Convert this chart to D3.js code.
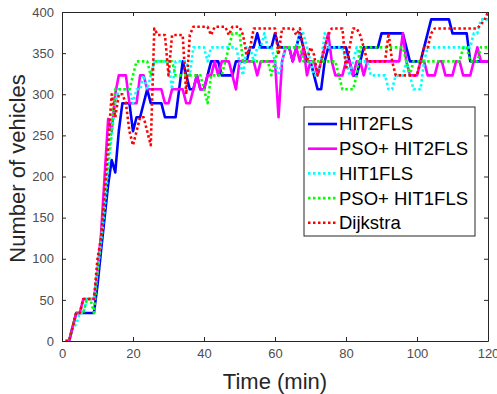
<!DOCTYPE html>
<html>
<head>
<meta charset="utf-8">
<script src="https://cdn.jsdelivr.net/npm/d3@7"></script>
<style>
  body { margin: 0; background: #fff; }
  svg { display: block; font-family: "Liberation Sans", Arial, sans-serif; }
</style>
</head>
<body>
<div id="chart"></div>
<script>
// minutes 1..120
const times = d3.range(1, 121);

const hit2fls = [
  0, 0, 17, 34, 34, 34, 34, 34, 34, 68,
  110, 150, 190, 220, 205, 255, 289, 289, 289, 255,
  272, 272, 289, 306, 289, 289, 289, 289, 272, 272,
  272, 272, 306, 340, 323, 306, 306, 323, 306, 306,
  323, 340, 340, 340, 323, 323, 323, 323, 340, 340,
  340, 340, 357, 357, 374, 357, 357, 357, 357, 374,
  357, 357, 357, 357, 340, 357, 374, 357, 340, 340,
  323, 306, 306, 340, 357, 357, 357, 357, 357, 357,
  340, 323, 323, 340, 357, 357, 357, 357, 357, 374,
  374, 374, 374, 374, 374, 374, 357, 340, 340, 340,
  340, 357, 374, 391, 391, 391, 391, 391, 391, 374,
  374, 374, 374, 374, 340, 340, 340, 340, 340, 340
];

const psoHit2fls = [
  0, 0, 17, 34, 34, 51, 51, 51, 51, 85,
  130, 200, 270, 255, 300, 323, 323, 323, 289, 289,
  289, 323, 323, 306, 306, 306, 306, 306, 289, 289,
  306, 306, 306, 306, 289, 289, 306, 323, 306, 306,
  323, 323, 340, 323, 340, 340, 340, 323, 306, 340,
  340, 340, 340, 340, 323, 340, 340, 340, 340, 340,
  272, 340, 357, 357, 340, 357, 340, 357, 323, 340,
  340, 323, 340, 357, 374, 340, 323, 323, 323, 340,
  340, 323, 340, 340, 323, 340, 340, 340, 340, 340,
  340, 340, 340, 340, 340, 374, 340, 323, 323, 323,
  340, 340, 323, 323, 323, 340, 340, 323, 323, 323,
  340, 340, 323, 323, 323, 340, 357, 340, 340, 340
];

const hit1fls = [
  0, 0, 17, 20, 34, 34, 51, 51, 51, 85,
  120, 160, 210, 250, 289, 306, 306, 306, 306, 289,
  306, 306, 323, 306, 323, 340, 340, 340, 340, 340,
  306, 340, 340, 340, 340, 323, 357, 357, 357, 357,
  340, 357, 357, 357, 357, 357, 357, 357, 357, 340,
  323, 357, 357, 340, 357, 357, 374, 357, 357, 340,
  323, 340, 357, 357, 357, 357, 374, 374, 357, 340,
  323, 323, 340, 374, 357, 357, 357, 357, 357, 340,
  323, 340, 357, 340, 340, 340, 323, 323, 323, 323,
  323, 306, 306, 323, 323, 323, 340, 323, 306, 306,
  306, 340, 357, 357, 357, 357, 357, 357, 357, 357,
  357, 357, 357, 357, 357, 374, 374, 391, 391, 391
];

const psoHit1fls = [
  0, 0, 17, 34, 34, 34, 51, 51, 34, 85,
  125, 170, 220, 260, 306, 306, 306, 306, 306, 323,
  340, 340, 340, 340, 323, 340, 340, 340, 340, 340,
  340, 323, 323, 323, 323, 323, 323, 323, 323, 306,
  289, 323, 323, 323, 323, 340, 357, 374, 374, 374,
  340, 340, 340, 340, 340, 340, 340, 340, 323, 340,
  357, 357, 357, 357, 357, 357, 357, 340, 340, 340,
  340, 340, 340, 340, 340, 340, 340, 323, 306, 306,
  306, 306, 323, 357, 357, 357, 357, 357, 357, 357,
  357, 357, 357, 357, 357, 357, 340, 323, 340, 340,
  340, 340, 340, 340, 340, 340, 340, 340, 340, 340,
  340, 340, 357, 357, 340, 340, 340, 357, 357, 357
];

const dijkstra = [
  0, 0, 17, 34, 34, 51, 51, 51, 51, 100,
  125, 180, 240, 300, 272, 300, 300, 289, 255, 238,
  255, 272, 272, 255, 238, 380, 372, 372, 372, 323,
  372, 372, 372, 372, 300, 372, 382, 382, 382, 382,
  382, 372, 382, 382, 382, 382, 372, 382, 382, 382,
  372, 348, 357, 380, 380, 380, 380, 380, 380, 380,
  348, 380, 380, 380, 380, 372, 380, 357, 340, 357,
  348, 323, 340, 357, 372, 380, 380, 380, 380, 330,
  357, 380, 380, 372, 357, 340, 340, 340, 340, 340,
  340, 374, 340, 323, 323, 323, 323, 323, 323, 323,
  340, 357, 357, 374, 380, 380, 380, 380, 380, 380,
  380, 380, 380, 380, 380, 380, 380, 385, 390, 400
];

const seriesNames = ['HIT2FLS', 'PSO+ HIT2FLS', 'HIT1FLS', 'PSO+ HIT1FLS', 'Dijkstra'];
const seriesValues = [hit2fls, psoHit2fls, hit1fls, psoHit1fls, dijkstra];
const seriesColors = ['#0000ff', '#ff00ff', '#00ffff', '#00ff00', '#ff0000'];
const seriesDash = [null, null, '2.5,2.5', '2.5,2.5', '2.5,2.5'];

const xTicks = [0, 20, 40, 60, 80, 100, 120];
const yTicks = [0, 50, 100, 150, 200, 250, 300, 350, 400];

const width = 497;
const height = 394;
const margin = { top: 12, right: 9, bottom: 53, left: 62 };

const svg = d3.select('#chart').append('svg')
  .attr('width', width)
  .attr('height', height);

const x = d3.scaleLinear().domain([0, 120]).range([margin.left, width - margin.right]);
const y = d3.scaleLinear().domain([0, 400]).range([height - margin.bottom, margin.top]);

const axisColor = '#262626';
const tickColor = '#4d4d4d';

// clip lines to plot box
svg.append('clipPath').attr('id', 'plotclip')
  .append('rect')
  .attr('x', x(0)).attr('y', y(400))
  .attr('width', x(120) - x(0)).attr('height', y(0) - y(400));

const line = d3.line()
  .x((d, i) => x(times[i]))
  .y(d => y(d));

const lines = svg.append('g').attr('clip-path', 'url(#plotclip)');
seriesValues.forEach((vals, k) => {
  lines.append('path')
    .datum(vals)
    .attr('fill', 'none')
    .attr('stroke', seriesColors[k])
    .attr('stroke-width', 2.6)
    .attr('stroke-dasharray', seriesDash[k])
    .attr('stroke-linejoin', 'round')
    .attr('d', line);
});

// axes, MATLAB style box with inward ticks
function styleAxis(g) {
  g.select('.domain').attr('stroke', axisColor).attr('stroke-width', 1);
  g.selectAll('.tick line').attr('stroke', axisColor).attr('stroke-width', 1);
  g.selectAll('.tick text')
    .attr('fill', tickColor)
    .attr('font-size', 13);
}

svg.append('g')
  .attr('transform', `translate(0,${y(0)})`)
  .call(d3.axisBottom(x).tickValues(xTicks).tickSizeInner(-4).tickSizeOuter(0).tickPadding(8))
  .call(styleAxis);

svg.append('g')
  .attr('transform', `translate(0,${y(400)})`)
  .call(d3.axisTop(x).tickValues(xTicks).tickSizeInner(-4).tickSizeOuter(0).tickFormat(''))
  .call(styleAxis);

svg.append('g')
  .attr('transform', `translate(${x(0)},0)`)
  .call(d3.axisLeft(y).tickValues(yTicks).tickSizeInner(-4).tickSizeOuter(0).tickPadding(8))
  .call(styleAxis);

svg.append('g')
  .attr('transform', `translate(${x(120)},0)`)
  .call(d3.axisRight(y).tickValues(yTicks).tickSizeInner(-4).tickSizeOuter(0).tickFormat(''))
  .call(styleAxis);

// axis titles
svg.append('text')
  .attr('x', (x(0) + x(120)) / 2)
  .attr('y', 389)
  .attr('text-anchor', 'middle')
  .attr('font-size', 22)
  .attr('fill', axisColor)
  .text('Time (min)');

svg.append('text')
  .attr('transform', `translate(25,${(y(0) + y(400)) / 2 - 8}) rotate(-90)`)
  .attr('text-anchor', 'middle')
  .attr('font-size', 22)
  .attr('fill', axisColor)
  .text('Number of vehicles');

// legend
const legend = svg.append('g').attr('transform', 'translate(304,107)');
legend.append('rect')
  .attr('width', 171).attr('height', 129)
  .attr('fill', '#fff')
  .attr('stroke', axisColor)
  .attr('stroke-width', 1);

seriesNames.forEach((name, k) => {
  const ly = 17 + k * 24.7;
  legend.append('line')
    .attr('x1', 4).attr('x2', 33)
    .attr('y1', ly).attr('y2', ly)
    .attr('stroke', seriesColors[k])
    .attr('stroke-width', 2.6)
    .attr('stroke-dasharray', seriesDash[k]);
  legend.append('text')
    .attr('x', 35).attr('y', ly)
    .attr('dy', '0.35em')
    .attr('font-size', 18.5)
    .attr('fill', '#000')
    .text(name);
});
</script>
</body>
</html>
